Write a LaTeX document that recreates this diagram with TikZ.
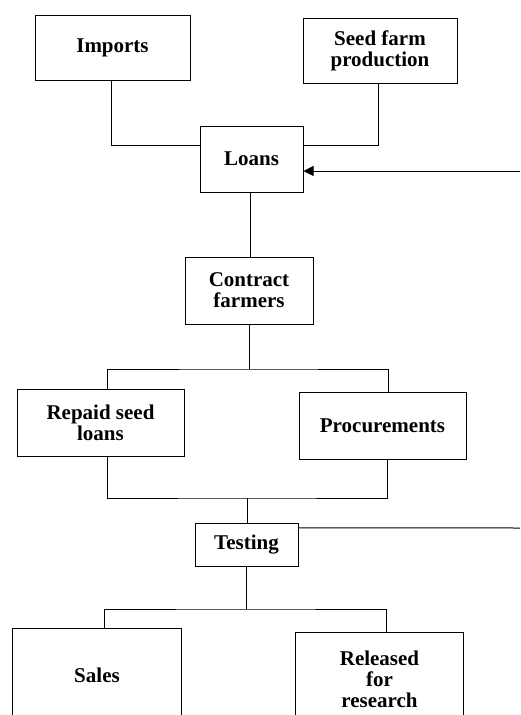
\documentclass[tikz,border=0pt]{standalone}
\usepackage{fontspec}
\setmainfont{Liberation Serif}
\usetikzlibrary{calc,arrows.meta}
\begin{document}
\begin{tikzpicture}[x=1pt,y=-1pt,
  every path/.style={line width=1pt},
  box/.style={draw,line width=1pt,align=center,inner sep=2pt,
    font=\fontsize{21}{21}\selectfont\bfseries},
  openbox/.style={box,draw=none},
  tip/.style={-{Triangle[length=10pt,width=10pt]}}]
\useasboundingbox (0,0) rectangle (520,715);

% source boxes
\node[box,minimum width=155pt,minimum height=65pt] (imports) at (112.5,47.5) {Imports};
\node[box,minimum width=154pt,minimum height=65pt] (seed) at (380,50.5) {Seed farm\\production};
\node[box,minimum width=103pt,minimum height=66pt] (loans) at (251.5,159) {Loans};
\node[box,minimum width=128pt,minimum height=67pt] (contract) at (249,290.5) {Contract\\farmers};
\node[box,minimum width=167pt,minimum height=67pt] (repaid) at (100.5,422.5) {Repaid seed\\loans};
\node[box,minimum width=167pt,minimum height=67pt] (procure) at (382.5,425.5) {Procurements};
\node[box,minimum width=103pt,minimum height=43pt] (testing) at (246.5,544.5) {Testing};
% outlets, open at the bottom
\node[openbox,minimum width=168pt,minimum height=92pt] (sales) at (97,675) {Sales};
\node[openbox,minimum width=167pt,minimum height=92pt] (released) at (379.5,679) {Released\\for\\research};
\draw (sales.south west) -- (sales.north west) -- (sales.north east) -- (sales.south east);
\draw (released.south west) -- (released.north west) -- (released.north east) -- (released.south east);

% junction points
\coordinate (fork1) at (249,369);
\coordinate (join1) at (247,498);
\coordinate (fork2) at (246,609);
\coordinate (fbtop) at (520,171);
\coordinate (fbbot) at (520,528);

% inputs to loans
\draw ([xshift=-1.5pt]imports.south) |- ($(loans.north west)!0.3!(loans.south west)$);
\draw ([xshift=-2pt]seed.south) |- ($(loans.north east)!0.3!(loans.south east)$);
\draw[tip] (fbtop) -- (loans.east |- fbtop);

% main chain
\draw ([xshift=-1.5pt]loans.south) -- ([xshift=1pt]contract.north);
\draw (contract.south) -- (fork1);
\draw ([xshift=6.5pt]repaid.north) |- (fork1) -| ([xshift=5.5pt]procure.north);
\draw ([xshift=6.5pt]repaid.south) |- (join1) -| ([xshift=4.5pt]procure.south);
\draw (join1) -- ([xshift=0.5pt]testing.north);
\draw ($(testing.north east)!0.12!(testing.south east)$) -- (fbbot);
\draw ([xshift=-0.5pt]testing.south) -- (fork2);
\draw ([xshift=7pt]sales.north) |- (fork2) -| ([xshift=6.5pt]released.north);
\end{tikzpicture}
\end{document}
